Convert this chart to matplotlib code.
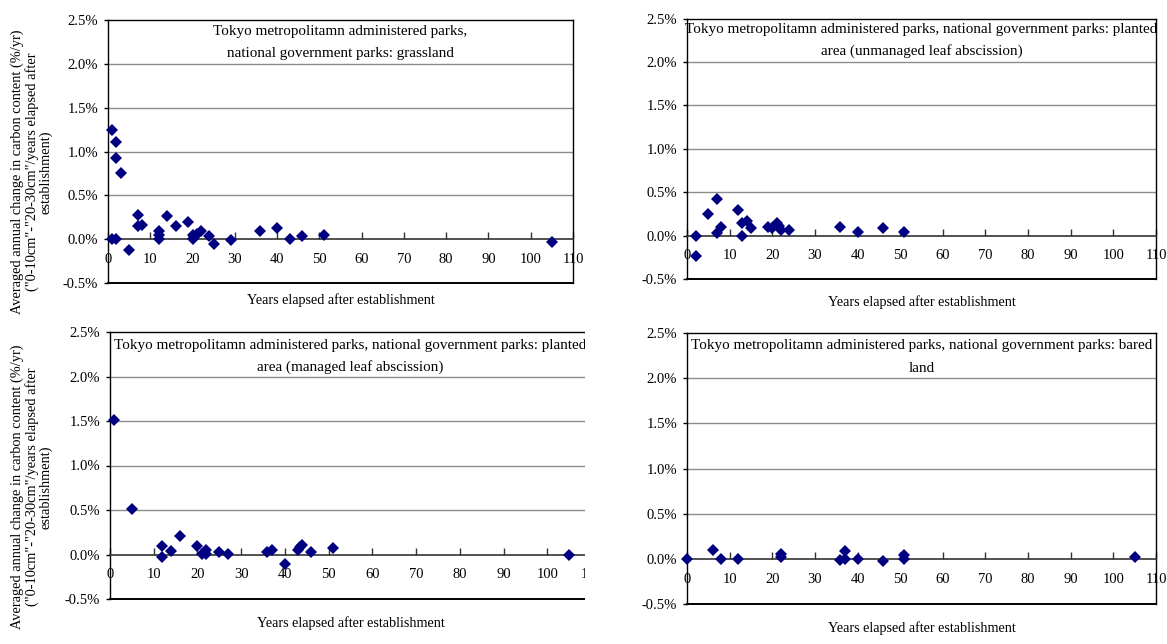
import matplotlib
matplotlib.use("Agg")
import matplotlib.pyplot as plt
from matplotlib.patches import Rectangle
from matplotlib.ticker import MultipleLocator, FuncFormatter

plt.rcParams["font.family"] = ["Liberation Serif", "DejaVu Serif"]
plt.rcParams["font.size"] = 10.5

# ---- data: years after establishment vs. averaged annual change in carbon content (%/yr)
grass_years = [1, 2, 2, 3, 1, 2, 5, 7, 7, 8, 12, 12, 12, 14, 16, 19, 20, 20, 20.3, 21, 22,
               24, 25, 29, 36, 40, 43, 46, 51, 105]
grass_change = [1.25, 1.11, 0.93, 0.75, 0.0, 0.0, -0.12, 0.28, 0.15, 0.16, 0.09, 0.05, 0.0,
                0.26, 0.15, 0.20, 0.05, 0.0, 0.03, 0.06, 0.09,
                0.04, -0.05, -0.01, 0.09, 0.13, 0.0, 0.04, 0.05, -0.03]

unmanaged_years = [2, 2, 5, 7, 7, 8, 12, 13, 13, 14, 15, 19, 20, 21, 21.5, 22, 24, 36, 40, 46, 51]
unmanaged_change = [0.0, -0.23, 0.25, 0.42, 0.03, 0.10, 0.29, 0.15, 0.0, 0.17, 0.085, 0.10,
                    0.085, 0.14, 0.11, 0.07, 0.06, 0.10, 0.04, 0.085, 0.04]

managed_years = [1, 5, 12, 12, 14, 16, 20, 21, 22, 22, 25, 27, 36, 37, 40, 43, 43.5, 44, 46, 51, 105]
managed_change = [1.51, 0.51, 0.10, -0.03, 0.04, 0.21, 0.10, 0.01, 0.045, 0.01, 0.025, 0.01,
                  0.03, 0.055, -0.11, 0.045, 0.08, 0.11, 0.025, 0.07, -0.01]

bare_years = [0, 6, 8, 12, 22, 22, 36, 37, 37, 40, 46, 51, 51, 105]
bare_change = [0.0, 0.10, 0.0, 0.0, 0.05, 0.02, -0.015, 0.09, 0.0, 0.0, -0.02, 0.045, 0.0, 0.015]

panel_titles = [
    "Tokyo metropolitamn administered parks,\nnational government parks: grassland",
    "Tokyo metropolitamn administered parks, national government parks: planted\narea (unmanaged leaf abscission)",
    "Tokyo metropolitamn administered parks, national government parks: planted\narea (managed leaf abscission)",
    "Tokyo metropolitamn administered parks, national government parks: bared\nland",
]
y_label = ("Averaged annual change in carbon content (%/yr)\n"
           "(\"0-10cm\"-\"20-30cm\"/years elapsed after\nestablishment)")
x_label = "Years elapsed after establishment"
x_ticks = list(range(0, 111, 10))

W, H = 1167, 644
fig = plt.figure(figsize=(W / 100, H / 100), dpi=100)


def place(left, right, top, bottom):
    return [left / W, 1 - bottom / H, (right - left) / W, (bottom - top) / H]


# (axes box, x, y, y-axis title centre y in px or None, x-title centre y in px,
#  first title line centre y in px)
panels = [
    (place(108, 573, 20, 283), grass_years, grass_change, 172, 300, 31),
    (place(687, 1156, 18.5, 279), unmanaged_years, unmanaged_change, None, 302, 29),
    (place(110, 591, 332, 599), managed_years, managed_change, 487, 623, 345),
    (place(687, 1156, 333, 604), bare_years, bare_change, None, 628, 346),
]

for (rect, xs, ys, ylabel_y, xlabel_y, title_y), title in zip(panels, panel_titles):
    ax = fig.add_axes(rect)
    ax.set_xlim(0, 110)
    ax.set_ylim(-0.5, 2.5)

    # horizontal gridlines
    for g in (0.5, 1.0, 1.5, 2.0):
        ax.axhline(g, color="#8c8c8c", lw=1.0, zorder=1)

    # frame
    for side in ("left", "right", "top"):
        ax.spines[side].set_color("black")
        ax.spines[side].set_linewidth(1.0)
    ax.axhline(-0.5, color="black", lw=1.4, zorder=3, clip_on=False)

    # category axis sits on the zero line with upward tick marks
    ax.spines["bottom"].set_position(("data", 0))
    ax.spines["bottom"].set_color("#333333")
    ax.spines["bottom"].set_linewidth(1.2)
    ax.set_xticks(x_ticks)
    ax.tick_params(axis="x", direction="in", length=5, width=1, pad=10,
                   labelsize=10.5, color="#333333")

    ax.yaxis.set_major_locator(MultipleLocator(0.5))
    ax.yaxis.set_major_formatter(FuncFormatter(lambda v, p: f"{v:.1f}%"))
    ax.tick_params(axis="y", direction="out", length=3, width=1, pad=4, labelsize=10.5)

    ax.plot(xs, ys, linestyle="none", marker="D", markersize=6.4,
            color="#000080", markeredgewidth=0, zorder=5, clip_on=False)

    # two-line panel title inside the plot area
    cx = rect[0] + rect[2] / 2
    for i, line in enumerate(title.split("\n")):
        fig.text(cx, 1 - (title_y + 22 * i) / H, line, ha="center", va="center",
                 fontsize=10.9, zorder=6)

    # axis titles
    fig.text(cx, 1 - xlabel_y / H, x_label, ha="center", va="center", fontsize=10.2)
    if ylabel_y is not None:
        fig.text(32 / W, 1 - ylabel_y / H, y_label, rotation=90, ha="center", va="center",
                 fontsize=10.4, linespacing=1.05, multialignment="center")

# the lower-left chart is cut off on its right side
fig.add_artist(Rectangle((584.5 / W, 0), 56 / W, 324 / H, transform=fig.transFigure,
                         facecolor="white", edgecolor="none", zorder=20))

fig.savefig("out.png", dpi=100, facecolor="white")
